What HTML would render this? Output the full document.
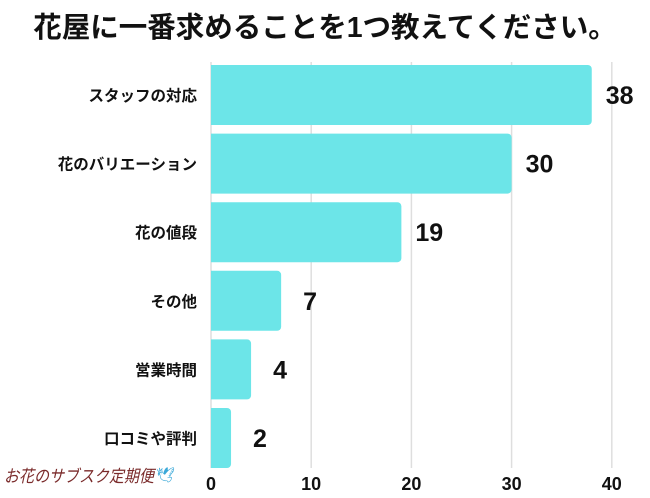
<!DOCTYPE html>
<html><head><meta charset="utf-8"><style>
body{margin:0;background:#fff;}
svg{display:block;font-family:"Liberation Sans","Noto Sans CJK JP",sans-serif;}
</style></head><body>
<svg id="c" width="650" height="498">
<text x="325" y="37" text-anchor="middle" font-size="28.5" font-weight="bold" fill="#111">花屋に一番求めることを1つ教えてください。</text>
<g id="grid"></g><g id="bars"></g>
<text x="4" y="482" font-size="17" fill="#7a2a2a" font-style="italic" textLength="150" lengthAdjust="spacingAndGlyphs">お花のサブスク定期便</text>
<text x="156" y="480" font-size="15" fill="#3aa8d8">🕊</text>
</svg>
<script>
const categories=["スタッフの対応","花のバリエーション","花の値段","その他","営業時間","口コミや評判"];
const values=[38,30,19,7,4,2];
const ticks=[0,10,20,30,40];
const x0=211,pxPer=10.02,topY=65,band=68.6,bh=60;
const xs=v=>x0+v*pxPer;
const ns="http://www.w3.org/2000/svg";
const grid=document.getElementById('grid'),bars=document.getElementById('bars');
function mk(tag,attrs,p){const e=document.createElementNS(ns,tag);for(const k in attrs)e.setAttribute(k,attrs[k]);p.appendChild(e);return e;}
ticks.forEach(t=>{
 const l=mk('line',{x1:xs(t),x2:xs(t),y1:62,y2:468,stroke:'#dedede','stroke-width':1.5},grid);
 
 
 const tx=mk('text',{x:xs(t),y:490,'text-anchor':'middle','font-size':18,'font-weight':'bold',fill:'#111'},grid);
 tx.textContent=t;
 
 
});
categories.forEach((c,i)=>{
 const y=topY+i*band,w=xs(values[i])-x0;
 const p=mk('path',{d:`M${x0},${y}H${x0+w-4}a4,4 0 0 1 4,4V${y+bh-4}a4,4 0 0 1 -4,4H${x0}Z`,fill:'#6ce5e8'},bars);
 
 
 const lb=mk('text',{x:197,y:y+bh/2+6,'text-anchor':'end','font-size':15.5,'font-weight':'bold',fill:'#111'},bars);
 lb.textContent=c;
 
 
 const vl=mk('text',{x:x0+w+(values[i]<10?22:14),y:y+bh/2+9,'font-size':25,'font-weight':'bold',fill:'#111'},bars);
 vl.textContent=values[i];
 
 
});
</script>
</body></html>
